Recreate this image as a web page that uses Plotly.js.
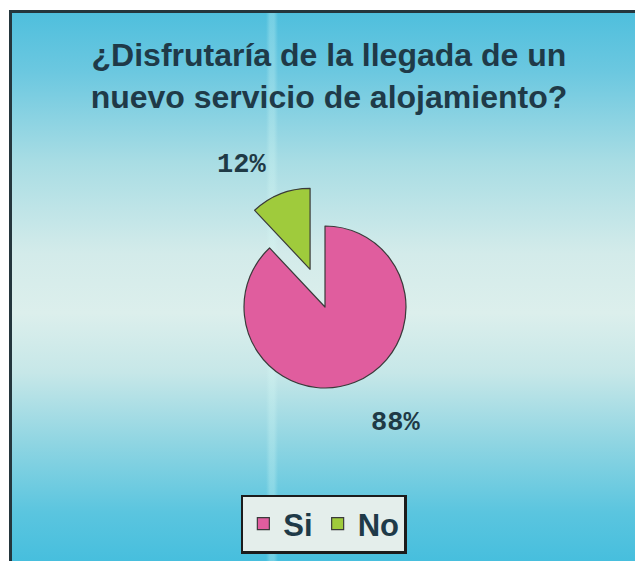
<!DOCTYPE html>
<html>
<head>
<meta charset="utf-8">
<script src="https://cdn.plot.ly/plotly-3.0.1.min.js"></script>
<style>
  html, body { margin: 0; padding: 0; background: #ffffff; }
  #wrap { position: relative; width: 635px; height: 561px; overflow: hidden; background: #ffffff; }
  #bg {
    position: absolute; left: 9px; top: 10px; width: 640px; height: 560px;
    border-left: 3px solid #24363d; border-top: 3px solid #24363d;
    background:
      linear-gradient(to right, rgba(255,255,255,0) 0px, rgba(255,255,255,0) 254px, rgba(215,250,245,0.28) 258px, rgba(215,250,245,0.28) 262px, rgba(255,255,255,0) 266px),
      linear-gradient(to bottom, #4fbfdd 0px, #6cc8e0 60px, #a9dde4 150px, #d3ebea 240px, #dcefec 300px, #c6e7e8 360px, #8fd5e2 430px, #5ac5df 500px, #42bddd 560px);
  }
  #chart { position: absolute; left: 0; top: 0; width: 635px; height: 561px; }
</style>
</head>
<body>
<div id="wrap">
  <div id="bg"></div>
  <div id="chart"></div>
</div>
<script>
const titleText = "¿Disfrutaría de la llegada de un<br>nuevo servicio de alojamiento?";
const categories = ["Si", "No"];
const values = [88, 12];
const sliceColors = ["#e05d9e", "#9fcb3c"];
const pulls = [0, 0.5];

const total = values.reduce((a, b) => a + b, 0);
const pctLabels = values.map(v => Math.round(v / total * 100) + "%");

const W = 635, H = 561;
const cx = 325, cy = 307, half = 121.5;

const trace = {
  type: "pie",
  labels: categories,
  values: values,
  sort: false,
  direction: "clockwise",
  rotation: 0,
  pull: pulls,
  textinfo: "none",
  hoverinfo: "label+percent",
  marker: { colors: sliceColors, line: { color: "#3a3a3a", width: 1.2 } },
  domain: {
    x: [(cx - half) / W, (cx + half) / W],
    y: [(H - cy - half) / H, (H - cy + half) / H]
  }
};

const labelFont = { family: "Liberation Mono, Courier New, monospace", size: 27, color: "#1f3a46", weight: "bold" };
const annotations = [
  { text: pctLabels[1], x: 241 / W, y: 1 - 165 / H },
  { text: pctLabels[0], x: 395 / W, y: 1 - 423 / H }
].map(a => Object.assign({
  xref: "paper", yref: "paper", showarrow: false,
  xanchor: "center", yanchor: "middle", font: labelFont
}, a));

const layout = {
  width: W, height: H,
  margin: { l: 0, r: 0, t: 0, b: 0 },
  paper_bgcolor: "rgba(0,0,0,0)",
  plot_bgcolor: "rgba(0,0,0,0)",
  title: {
    text: titleText,
    x: 0.518, xanchor: "center",
    y: 1 - 66 / H, yanchor: "top", yref: "container",
    font: { family: "Liberation Sans, Arial, sans-serif", size: 32, color: "#1f3a48", weight: "bold" }
  },
  showlegend: true,
  legend: {
    orientation: "h",
    x: 0.51, xanchor: "center",
    y: 1 - 524 / H, yanchor: "middle",
    bgcolor: "#e4eeeb",
    bordercolor: "#1c1c1c",
    borderwidth: 2.5,
    font: { family: "Liberation Sans, Arial, sans-serif", size: 31, color: "#1f3a48", weight: "bold" },
    traceorder: "normal"
  },
  annotations: annotations
};

Plotly.newPlot("chart", [trace], layout, { displayModeBar: false, staticPlot: true });
</script>
</body>
</html>
